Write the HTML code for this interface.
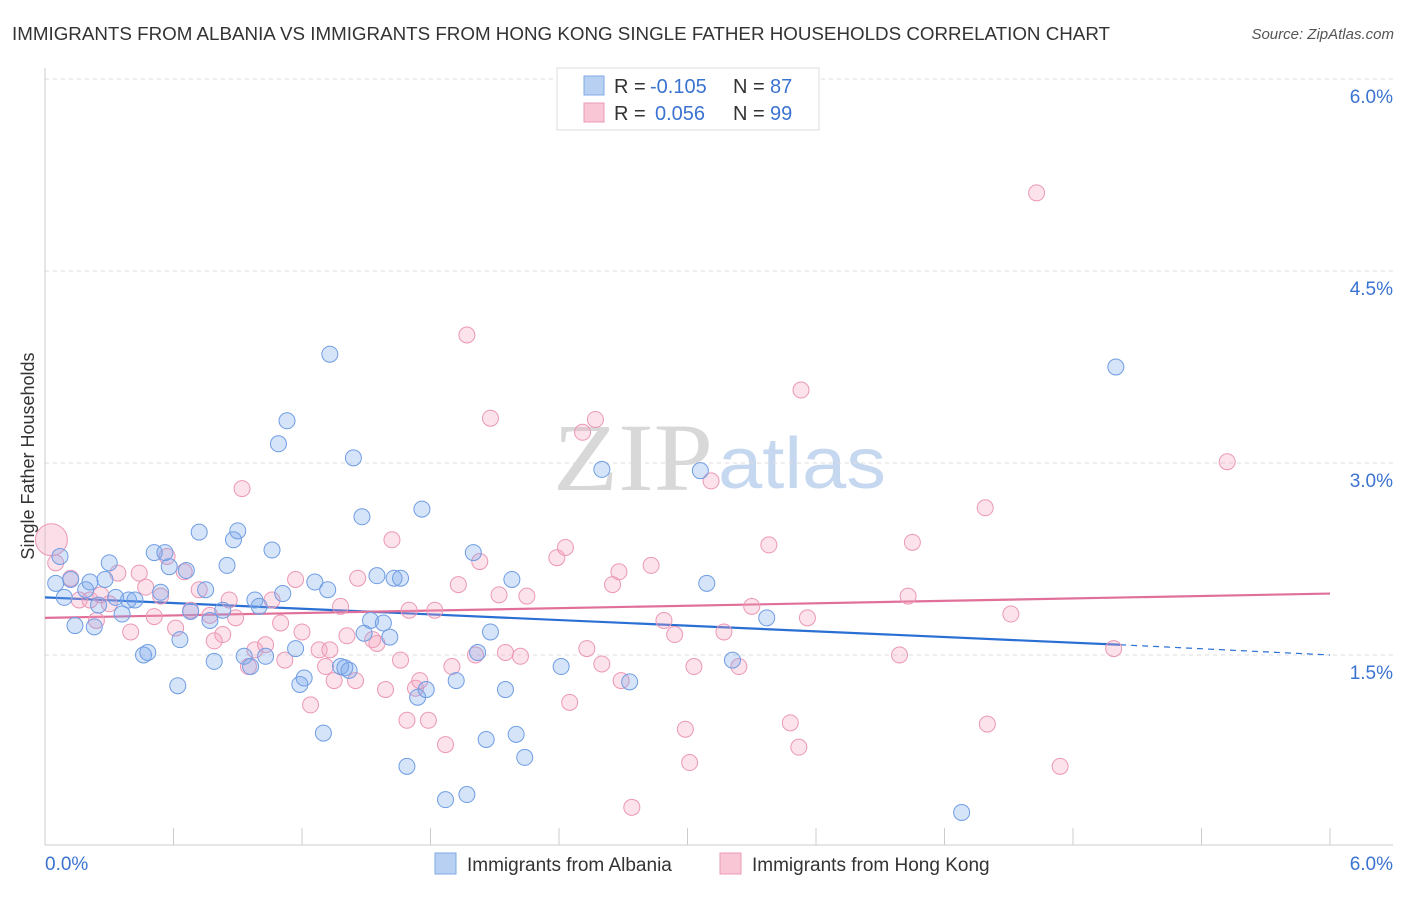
<!DOCTYPE html>
<html><head><meta charset="utf-8"><style>
body{margin:0;background:#fff;font-family:"Liberation Sans",sans-serif}
</style></head><body>
<svg id="chart" width="1406" height="892" xmlns="http://www.w3.org/2000/svg" font-family="Liberation Sans, sans-serif">
<text x="12" y="40" font-size="18" fill="#333" textLength="1098" lengthAdjust="spacingAndGlyphs">IMMIGRANTS FROM ALBANIA VS IMMIGRANTS FROM HONG KONG SINGLE FATHER HOUSEHOLDS CORRELATION CHART</text>
<text x="1394" y="39" font-size="15" fill="#555" font-style="italic" text-anchor="end">Source: ZipAtlas.com</text>
<text transform="translate(34,456) rotate(-90)" font-size="18" fill="#333" text-anchor="middle">Single Father Households</text>
<g>
<text x="553" y="490" font-size="96" font-family="Liberation Serif, serif" fill="#d8d8d8" textLength="160" lengthAdjust="spacingAndGlyphs">ZIP</text>
<text x="718" y="488" font-size="72" fill="#c5d8f0" textLength="168" lengthAdjust="spacingAndGlyphs">atlas</text>
</g>
<g id="grid"></g><g id="axes"></g><g id="trends"></g><g id="pts"></g>
<g>
<rect x="557" y="68" width="262" height="62" fill="#fff" stroke="#ddd"/>
<rect x="584" y="76" width="20" height="19" fill="#b8d1f3" stroke="#7fa9e6"/>
<rect x="584" y="103" width="20" height="19" fill="#f9c6d5" stroke="#eb98b5"/>
<text x="614" y="93" font-size="20" fill="#333">R =</text>
<text x="650" y="93" font-size="20" fill="#3b73d1">-0.105</text>
<text x="733" y="93" font-size="20" fill="#333">N =</text>
<text x="770" y="93" font-size="20" fill="#3b73d1">87</text>
<text x="614" y="120" font-size="20" fill="#333">R =</text>
<text x="655" y="120" font-size="20" fill="#3b73d1">0.056</text>
<text x="733" y="120" font-size="20" fill="#333">N =</text>
<text x="770" y="120" font-size="20" fill="#3b73d1">99</text>
</g>
<g>
<rect x="435" y="853" width="21" height="21" fill="#b8d1f3" stroke="#7fa9e6"/>
<text x="467" y="871" font-size="19" fill="#333">Immigrants from Albania</text>
<rect x="720" y="853" width="21" height="21" fill="#f9c6d5" stroke="#eb98b5"/>
<text x="752" y="871" font-size="19" fill="#333">Immigrants from Hong Kong</text>
</g>
</svg>
<script>
const yTicks=[1.5,3.0,4.5,6.0];
const yTickLabels=["1.5%","3.0%","4.5%","6.0%"];
const xTickLabels=["0.0%","6.0%"];
const blueX=[0.05,0.07,0.09,0.12,0.14,0.19,0.21,0.23,0.25,0.28,0.30,0.33,0.36,0.39,0.42,0.46,0.48,0.51,0.54,0.56,0.58,0.62,0.63,0.66,0.68,0.72,0.75,0.77,0.79,0.83,0.85,0.88,0.90,0.93,0.96,0.98,1.00,1.03,1.06,1.09,1.11,1.13,1.17,1.19,1.21,1.26,1.30,1.32,1.33,1.38,1.40,1.42,1.44,1.48,1.49,1.52,1.55,1.58,1.61,1.63,1.66,1.69,1.74,1.76,1.78,1.87,1.92,1.97,2.00,2.02,2.06,2.08,2.15,2.18,2.20,2.24,2.41,2.60,2.73,3.06,3.09,3.21,3.37,4.28,5.00];
const blueY=[2.06,2.27,1.95,2.09,1.73,2.01,2.07,1.72,1.89,2.09,2.22,1.95,1.82,1.93,1.93,1.50,1.52,2.30,1.99,2.30,2.19,1.26,1.62,2.16,1.84,2.46,2.01,1.77,1.45,1.85,2.20,2.40,2.47,1.49,1.41,1.93,1.88,1.49,2.32,3.15,1.98,3.33,1.55,1.27,1.32,2.07,0.89,2.01,3.85,1.41,1.40,1.38,3.04,2.58,1.67,1.77,2.12,1.75,1.64,2.10,2.10,0.63,1.17,2.64,1.23,0.37,1.30,0.41,2.30,1.52,0.84,1.68,1.23,2.09,0.88,0.70,1.41,2.95,1.29,2.94,2.06,1.46,1.79,0.27,3.75];
const pinkX=[0.05,0.12,0.16,0.21,0.24,0.26,0.30,0.34,0.40,0.44,0.47,0.51,0.54,0.57,0.61,0.65,0.68,0.72,0.77,0.79,0.83,0.86,0.89,0.92,0.95,0.98,1.03,1.06,1.10,1.12,1.17,1.20,1.24,1.28,1.31,1.33,1.35,1.38,1.41,1.45,1.46,1.53,1.55,1.59,1.62,1.66,1.69,1.70,1.73,1.75,1.79,1.82,1.87,1.90,1.93,1.97,2.01,2.03,2.08,2.12,2.15,2.22,2.25,2.39,2.43,2.45,2.51,2.53,2.57,2.60,2.65,2.68,2.69,2.74,2.83,2.89,2.94,2.99,3.01,3.03,3.11,3.17,3.24,3.30,3.38,3.48,3.52,3.53,3.56,3.99,4.03,4.05,4.39,4.40,4.51,4.63,4.74,4.99,5.52];
const pinkY=[2.22,2.10,1.93,1.93,1.77,1.97,1.90,2.14,1.68,2.14,2.03,1.80,1.96,2.27,1.71,2.15,1.85,2.01,1.81,1.61,1.66,1.93,1.79,2.80,1.41,1.54,1.58,1.93,1.75,1.46,2.09,1.68,1.11,1.54,1.41,1.54,1.30,1.88,1.65,1.30,2.10,1.62,1.59,1.23,2.40,1.46,0.99,1.85,1.24,1.30,0.99,1.85,0.80,1.41,2.05,4.00,1.50,2.23,3.35,1.97,1.52,1.49,1.96,2.26,2.34,1.13,3.24,1.55,3.34,1.43,2.05,2.15,1.30,0.31,2.20,1.77,1.66,0.92,0.66,1.41,2.86,1.68,1.41,1.88,2.36,0.97,0.78,3.57,1.79,1.50,1.96,2.38,2.65,0.96,1.82,5.11,0.63,1.55,3.01];
const bigPink=[0.03,2.40];
const blueTrend=[[0,1.95],[5.02,1.58],[6,1.50]];
const pinkTrend=[[0,1.79],[6,1.98]];
const X0=45,X1=1330,Y0=847,PXPER=128;
function sx(v){return X0+v/6*(X1-X0);}
function sy(v){return Y0-v*PXPER;}
const NS="http://www.w3.org/2000/svg";
function mk(t,a,p){const e=document.createElementNS(NS,t);for(const k in a)e.setAttribute(k,a[k]);p.appendChild(e);return e;}
const grid=document.getElementById('grid'),axes=document.getElementById('axes'),tr=document.getElementById('trends'),pts=document.getElementById('pts');
yTicks.forEach((t,i)=>{
 const l=mk('line',{x1:X0,x2:1393,y1:sy(t),y2:sy(t),stroke:'#ddd','stroke-dasharray':'4,4'},grid);
 
 
 const tx=mk('text',{x:1393,y:sy(t)+24,'font-size':19,fill:'#3b73d1','text-anchor':'end'},axes);
 tx.textContent=yTickLabels[i];
 
 
});
const ax=mk('line',{x1:X0,x2:1393,y1:845,y2:845,stroke:'#ccc'},axes);


const ay=mk('line',{x1:X0,x2:X0,y1:68,y2:845,stroke:'#ccc'},axes);


for(let i=0;i<=10;i++){const t=mk('line',{x1:sx(i*0.6),x2:sx(i*0.6),y1:828,y2:845,stroke:'#ccc'},axes);
 
 }
const xl0=mk('text',{x:45,y:870,'font-size':19,fill:'#3b73d1'},axes);xl0.textContent=xTickLabels[0];


const xl1=mk('text',{x:1393,y:870,'font-size':19,fill:'#3b73d1','text-anchor':'end'},axes);xl1.textContent=xTickLabels[1];


const n=Math.min(pinkX.length,pinkY.length);
for(let i=0;i<n;i++){const c=mk('circle',{cx:sx(pinkX[i]),cy:sy(pinkY[i]),r:8,fill:'rgba(244,160,190,0.3)',stroke:'#eb98b5','stroke-width':1},pts);
 
 }
const bp=mk('circle',{cx:sx(bigPink[0]),cy:sy(bigPink[1]),r:16,fill:'rgba(244,160,190,0.35)',stroke:'#eb98b5'},pts);


const m=Math.min(blueX.length,blueY.length);
for(let i=0;i<m;i++){const c=mk('circle',{cx:sx(blueX[i]),cy:sy(blueY[i]),r:8,fill:'rgba(120,165,235,0.3)',stroke:'#6f9de3','stroke-width':1},pts);
 
 }
const b1=mk('line',{x1:sx(blueTrend[0][0]),y1:sy(blueTrend[0][1]),x2:sx(blueTrend[1][0]),y2:sy(blueTrend[1][1]),stroke:'#2a6fd4','stroke-width':2.2},tr);


const b2=mk('line',{x1:sx(blueTrend[1][0]),y1:sy(blueTrend[1][1]),x2:sx(blueTrend[2][0]),y2:sy(blueTrend[2][1]),stroke:'#2a6fd4','stroke-width':1.2,'stroke-dasharray':'6,5'},tr);


const p1=mk('line',{x1:sx(pinkTrend[0][0]),y1:sy(pinkTrend[0][1]),x2:sx(pinkTrend[1][0]),y2:sy(pinkTrend[1][1]),stroke:'#e0709a','stroke-width':2.2},tr);


</script>
</body></html>
